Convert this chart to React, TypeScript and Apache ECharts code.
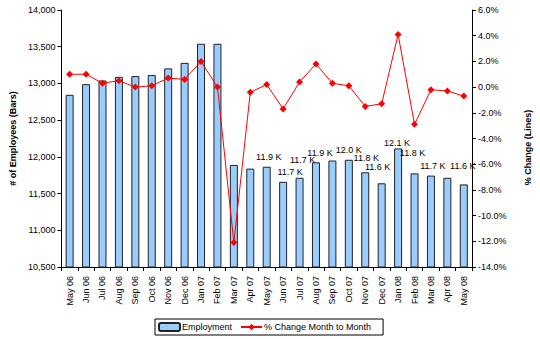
import React, { useEffect, useRef } from "react";
import * as echarts from "echarts";

const categories = [
  "May 06", "Jun 06", "Jul 06", "Aug 06", "Sep 06", "Oct 06", "Nov 06", "Dec 06",
  "Jan 07", "Feb 07", "Mar 07", "Apr 07", "May 07", "Jun 07", "Jul 07", "Aug 07",
  "Sep 07", "Oct 07", "Nov 07", "Dec 07", "Jan 08", "Feb 08", "Mar 08", "Apr 08", "May 08",
];

const employment = [
  12845, 12990, 13040, 13090, 13100, 13115, 13205, 13280,
  13540, 13540, 11890, 11840, 11865, 11660, 11715, 11925,
  11950, 11960, 11790, 11640, 12115, 11775, 11745, 11715, 11625,
];

const pctChange = [
  1.0, 1.0, 0.3, 0.5, 0.0, 0.1, 0.7, 0.6,
  2.0, 0.0, -12.1, -0.4, 0.2, -1.7, 0.4, 1.8,
  0.3, 0.1, -1.5, -1.3, 4.1, -2.9, -0.2, -0.3, -0.7,
];

const leftTicks = { min: 10500, max: 14000, interval: 500 };
const rightTicks = { min: -14, max: 6, interval: 2 };

// which bars carry a data label, and the label's nudge [dx, dy]
const labelNudges: Record<string, [number, number]> = {
  "May 07": [2, 0],
  "Jun 07": [7, 0],
  "Jul 07": [3, -8],
  "Aug 07": [4, 0],
  "Oct 07": [0, 0],
  "Nov 07": [1, -5],
  "Dec 07": [-4, -7],
  "Jan 08": [-1, 4],
  "Feb 08": [-2, -11],
  "Mar 08": [2, 0],
  "May 08": [-1, -9],
};

const FONT = "Liberation Sans, Arial, sans-serif";

export default function App() {
  const ref = useRef<HTMLDivElement>(null);
  useEffect(() => {
    if (!ref.current) return;
    const chart = echarts.init(ref.current, undefined, { renderer: "svg" });
    const barData = employment.map((v, i) => {
      const nudge = labelNudges[categories[i]];
      return nudge
        ? { value: v, label: { show: true, offset: nudge } }
        : { value: v, label: { show: false } };
    });
    chart.setOption({
      animation: false,
      backgroundColor: "#ffffff",
      textStyle: { fontFamily: FONT },
      grid: { left: 54, right: 55, top: 10, bottom: 72, containLabel: false },
      legend: {
        left: 155,
        top: 319,
        orient: "horizontal",
        borderColor: "#000",
        borderWidth: 1,
        padding: [3, 12, 3, 3],
        itemWidth: 21,
        itemHeight: 8,
        itemGap: 8,
        textStyle: { fontFamily: FONT, fontSize: 9, color: "#000", padding: [0, 0, 0, -3] },
        data: ["Employment", "% Change Month to Month"],
      },
      xAxis: {
        type: "category",
        data: categories,
        boundaryGap: true,
        axisLine: { onZero: false, lineStyle: { color: "#000", width: 1 } },
        axisTick: { show: true, alignWithLabel: false, length: 4, lineStyle: { color: "#000" } },
        axisLabel: { rotate: 90, fontSize: 9, color: "#000", fontFamily: FONT, margin: 9, interval: 0 },
      },
      yAxis: [
        {
          type: "value",
          min: leftTicks.min,
          max: leftTicks.max,
          interval: leftTicks.interval,
          name: "# of Employees (Bars)",
          nameLocation: "middle",
          nameRotate: 90,
          nameGap: 43,
          nameTextStyle: { fontSize: 9, fontWeight: "bold", color: "#000", fontFamily: FONT },
          axisLine: { show: true, onZero: false, lineStyle: { color: "#000", width: 1 } },
          axisTick: { show: true, length: 4, lineStyle: { color: "#000" } },
          axisLabel: {
            fontSize: 9,
            color: "#000",
            fontFamily: FONT,
            margin: 6,
            formatter: (v: number) => v.toLocaleString("en-US"),
          },
          splitLine: { show: false },
        },
        {
          type: "value",
          position: "right",
          min: rightTicks.min,
          max: rightTicks.max,
          interval: rightTicks.interval,
          name: "% Change (Lines)",
          nameLocation: "middle",
          nameRotate: 90,
          nameGap: 51,
          nameTextStyle: {
            fontSize: 9,
            fontWeight: "bold",
            color: "#000",
            fontFamily: FONT,
            padding: [0, 18, 0, 0],
          },
          axisLine: { show: true, onZero: false, lineStyle: { color: "#000", width: 1 } },
          axisTick: { show: true, length: 4, lineStyle: { color: "#000" } },
          axisLabel: {
            fontSize: 9,
            color: "#000",
            fontFamily: FONT,
            margin: 6,
            formatter: (v: number) => v.toFixed(1) + "%",
          },
          splitLine: { show: false },
        },
      ],
      series: [
        {
          name: "Employment",
          type: "bar",
          yAxisIndex: 0,
          barWidth: 8,
          data: barData,
          itemStyle: { color: "#99ccff", borderColor: "#222", borderWidth: 1 },
          label: {
            position: "top",
            distance: 5,
            fontSize: 9,
            color: "#000",
            fontFamily: FONT,
            formatter: (p: any) => (p.value / 1000).toFixed(1) + " K",
          },
          z: 2,
        },
        {
          name: "% Change Month to Month",
          type: "line",
          yAxisIndex: 1,
          data: pctChange,
          symbol: "diamond",
          symbolSize: 7,
          lineStyle: { color: "#ff0000", width: 1 },
          itemStyle: { color: "#ff0000" },
          z: 3,
        },
      ],
    });
    return () => chart.dispose();
  }, []);
  return <div ref={ref} style={{ width: 540, height: 339, position: "absolute", left: 0, top: 0 }} />;
}
